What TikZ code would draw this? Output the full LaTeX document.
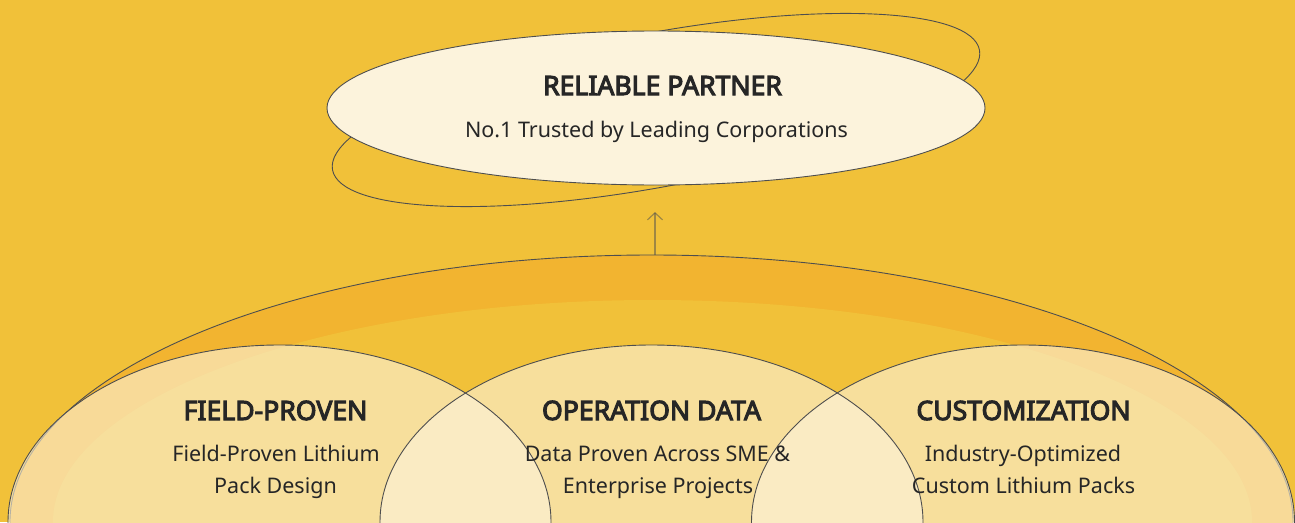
\documentclass[tikz,border=0pt]{standalone}
\usepackage{fontspec}
\setmainfont{Noto Sans}[AutoFakeBold=4]
\usetikzlibrary{shapes.geometric,arrows.meta}
\definecolor{bg}{HTML}{F1C139}
\definecolor{band}{HTML}{F2B430}
\definecolor{cream}{HTML}{FCF4DE}
\definecolor{topfill}{HTML}{FCF3DC}
\definecolor{edge}{HTML}{4E4E4E}
\definecolor{ink}{HTML}{262626}
\begin{document}
\begin{tikzpicture}[x=1pt,y=-1pt,
  oval/.style={ellipse, inner sep=0pt, outer sep=0pt},
  outline/.style={draw=edge, line width=0.9pt},
  venn/.style={oval, minimum width=543pt, minimum height=354pt},
  headtext/.style={anchor=base, text=ink, font=\fontsize{26.6}{30}\selectfont\bfseries},
  bodytext/.style={anchor=base, text=ink, font=\fontsize{21.5}{24}\selectfont},
  uparrow/.style={draw=edge, draw opacity=0.5, line width=1.2pt, -{Straight Barb[length=7pt,width=15pt]}}]
\useasboundingbox (0,0) rectangle (1295,522);
\clip (0,0) rectangle (1295,522);
\fill[bg] (0,0) rectangle (1295,522);

% top: ring and oval
\node[oval, outline, minimum width=658pt, minimum height=154pt, rotate=10.5] (ring) at (656,110) {};
\node[oval, outline, fill=topfill, minimum width=658pt, minimum height=154pt] (top) at (656,108) {};
\node[headtext] (toptitle) at (662.5,95) {RELIABLE PARTNER};
\node[bodytext] (topsub) at (656.5,137) {No.1 Trusted by Leading Corporations};

% big arch
\node[oval, outline, fill=band, minimum width=1283pt, minimum height=534pt] (arch) at (651.5,522) {};
\node[oval, fill=bg, minimum width=1199pt, minimum height=444pt] (archin) at (652.5,522) {};
\coordinate (tip) at (655,212);
\draw[uparrow] ([xshift=3.5pt]arch.north) -- (tip);

% three circles
\node[venn, fill=cream, fill opacity=0.6] (c1) at (279.5,522) {};
\node[venn, fill=cream, fill opacity=0.6] (c2) at (651.5,522) {};
\node[venn, fill=cream, fill opacity=0.6] (c3) at (1023,522) {};
\node[venn, outline] at (c1) {};
\node[venn, outline] at (c2) {};
\node[venn, outline] at (c3) {};

\node[headtext] (h1) at (275.5,420) {FIELD-PROVEN};
\node[bodytext] (b1a) at (276,461) {Field-Proven Lithium};
\node[bodytext] (b1b) at (275.5,493) {Pack Design};
\node[headtext] (h2) at (651.5,420) {OPERATION DATA};
\node[bodytext] (b2a) at (657.5,461) {Data Proven Across SME \&};
\node[bodytext] (b2b) at (658,493) {Enterprise Projects};
\node[headtext] (h3) at (1023.5,420) {CUSTOMIZATION};
\node[bodytext] (b3a) at (1023,461) {Industry-Optimized};
\node[bodytext] (b3b) at (1023.5,493) {Custom Lithium Packs};
\end{tikzpicture}
\end{document}
